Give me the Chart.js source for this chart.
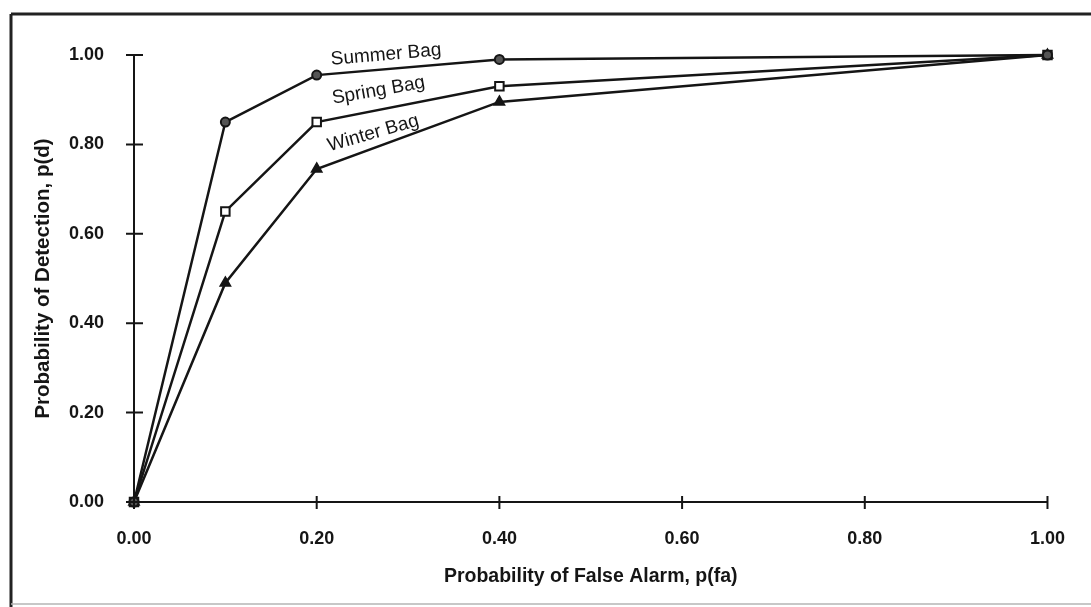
<!DOCTYPE html>
<html>
<head>
<meta charset="utf-8">
<script src="https://cdn.jsdelivr.net/npm/chart.js@4/dist/chart.umd.min.js"></script>
<style>
  html, body { margin: 0; padding: 0; background: #fff; }
  #wrap { width: 1091px; height: 607px; }
</style>
</head>
<body>
<div id="wrap"><canvas id="roc" width="1091" height="607"></canvas></div>
<script>
// false alarm rate (x) and detection rate (y) for each bag
const falseAlarm = [0, 0.1, 0.2, 0.4, 1.0];
const summerBag = [0, 0.85, 0.955, 0.99, 1.0];
const springBag = [0, 0.65, 0.85, 0.93, 1.0];
const winterBag = [0, 0.49, 0.745, 0.895, 1.0];
const seriesNames = ['Summer Bag', 'Spring Bag', 'Winter Bag'];

const ink = '#151515';
const fontFam = '"Liberation Sans", Arial, sans-serif';

const toPoints = (ys) => falseAlarm.map((x, i) => ({ x: x, y: ys[i] }));

// where each inline label sits on the 0.2 -> 0.4 segment
const labelPlace = [
    { t: 0.08, off: 9, angle: -5 },
    { t: 0.09, off: 15, angle: -10 },
    { t: 0.07, off: 13, angle: -16 }
];

// page frame round the figure
const framePlugin = {
    id: 'frame',
    beforeDraw(chart) {
        const c = chart.ctx;
        c.save();
        c.fillStyle = '#fff';
        c.fillRect(0, 0, chart.width, chart.height);
        c.strokeStyle = '#222';
        c.lineWidth = 3;
        c.beginPath();
        c.moveTo(11, 14);
        c.lineTo(chart.width, 14);
        c.moveTo(11, 14);
        c.lineTo(11, chart.height);
        c.stroke();
        c.strokeStyle = '#b5b5b5';
        c.lineWidth = 1.5;
        c.beginPath();
        c.moveTo(11, 604);
        c.lineTo(chart.width, 604);
        c.stroke();
        c.restore();
    }
};

// tick marks that cross the axis lines
const crossTicks = {
    id: 'crossTicks',
    afterDraw(chart) {
        const c = chart.ctx;
        const xs = chart.scales.x, ys = chart.scales.y;
        const area = chart.chartArea;
        c.save();
        c.strokeStyle = ink;
        c.lineWidth = 2;
        c.beginPath();
        xs.ticks.forEach(tk => {
            const px = xs.getPixelForValue(tk.value);
            c.moveTo(px, area.bottom - 6);
            c.lineTo(px, area.bottom + 7);
        });
        ys.ticks.forEach(tk => {
            const py = ys.getPixelForValue(tk.value);
            c.moveTo(area.left - 8, py);
            c.lineTo(area.left + 9, py);
        });
        c.stroke();
        c.restore();
    }
};

// series names written along their curves
const lineLabels = {
    id: 'lineLabels',
    afterDatasetsDraw(chart) {
        const c = chart.ctx;
        c.save();
        c.fillStyle = ink;
        c.font = '19px ' + fontFam;
        c.textAlign = 'left';
        c.textBaseline = 'alphabetic';
        chart.data.datasets.forEach((ds, i) => {
            const meta = chart.getDatasetMeta(i);
            const a = meta.data[2], b = meta.data[3];
            const p = labelPlace[i];
            const x0 = a.x + p.t * (b.x - a.x);
            const y0 = a.y + p.t * (b.y - a.y) - p.off;
            c.save();
            c.translate(x0, y0);
            c.rotate(p.angle * Math.PI / 180);
            c.fillText(seriesNames[i], 0, 0);
            c.restore();
        });
        c.restore();
    }
};

const darkEnds = (ctx) => {
    const x = ctx.raw ? ctx.raw.x : null;
    return (x === 0 || x === 1) ? ink : '#fff';
};

new Chart(document.getElementById('roc'), {
    type: 'line',
    data: {
        datasets: [{
            label: seriesNames[0],
            data: toPoints(summerBag),
            borderColor: ink,
            borderWidth: 2.5,
            clip: false,
            pointStyle: 'circle',
            pointRadius: 4.5,
            pointBorderWidth: 2,
            pointBorderColor: ink,
            pointBackgroundColor: '#555'
        }, {
            label: seriesNames[1],
            data: toPoints(springBag),
            borderColor: ink,
            borderWidth: 2.5,
            clip: false,
            pointStyle: 'rect',
            pointRadius: 6,
            pointBorderWidth: 2,
            pointBorderColor: ink,
            pointBackgroundColor: darkEnds
        }, {
            label: seriesNames[2],
            data: toPoints(winterBag),
            borderColor: ink,
            borderWidth: 2.5,
            clip: false,
            pointStyle: 'triangle',
            pointRadius: 6,
            pointBorderWidth: 1.5,
            pointBorderColor: ink,
            pointBackgroundColor: ink
        }]
    },
    options: {
        responsive: false,
        animation: false,
        layout: { padding: { top: 55, right: 34, left: 0, bottom: 0 } },
        plugins: {
            legend: { display: false },
            tooltip: { enabled: false }
        },
        elements: { line: { tension: 0 } },
        scales: {
            x: {
                type: 'linear',
                min: 0,
                max: 1,
                afterFit: (s) => { s.height = 105; },
                border: { display: true, color: ink, width: 2 },
                grid: { display: true, drawOnChartArea: false, drawTicks: false, color: 'rgba(0,0,0,0)' },
                ticks: {
                    stepSize: 0.2,
                    padding: 26,
                    color: ink,
                    font: { family: fontFam, size: 18, weight: 'bold' },
                    callback: (v) => v.toFixed(2)
                },
                title: {
                    display: true,
                    text: 'Probability of False Alarm, p(fa)',
                    color: ink,
                    font: { family: fontFam, size: 19.5, weight: 'bold' },
                    padding: { top: 0, bottom: 19 }
                }
            },
            y: {
                type: 'linear',
                min: 0,
                max: 1,
                afterFit: (s) => { s.width = 134; },
                border: { display: true, color: ink, width: 2 },
                grid: { display: true, drawOnChartArea: false, drawTicks: false, color: 'rgba(0,0,0,0)' },
                ticks: {
                    stepSize: 0.2,
                    padding: 30,
                    color: ink,
                    font: { family: fontFam, size: 18, weight: 'bold' },
                    callback: (v) => v.toFixed(2)
                },
                title: {
                    display: true,
                    text: 'Probability of Detection, p(d)',
                    color: ink,
                    font: { family: fontFam, size: 20.5, weight: 'bold' },
                    padding: { top: 31, bottom: 0 }
                }
            }
        }
    },
    plugins: [framePlugin, crossTicks, lineLabels]
});
</script>
</body>
</html>
